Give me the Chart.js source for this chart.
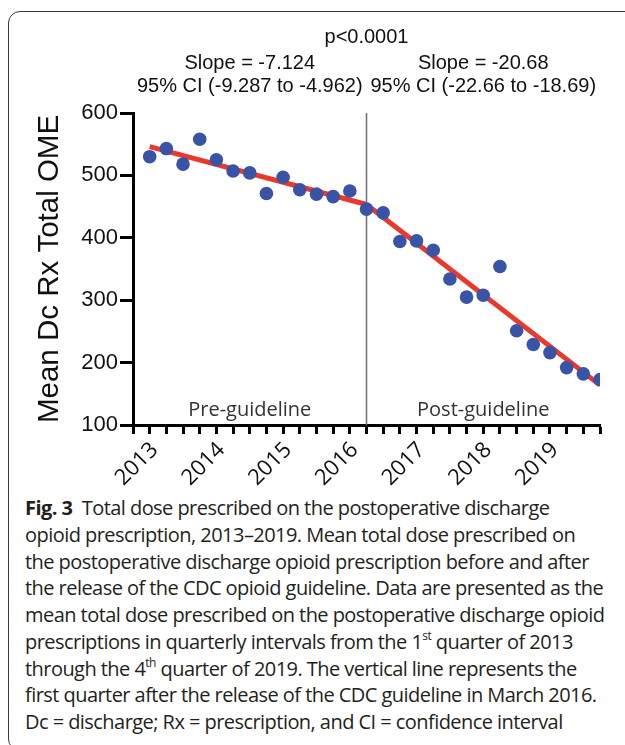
<!DOCTYPE html>
<html><head><meta charset="utf-8">
<script src="https://cdn.jsdelivr.net/npm/chart.js@4.4.1/dist/chart.umd.min.js"></script>
<style>
html,body{margin:0;padding:0;background:#fff;width:625px;height:745px;overflow:hidden;}
#frame{position:absolute;left:8px;top:11px;width:640px;height:740px;border:1.5px solid #3a3a3a;border-radius:12px;box-sizing:border-box;}
#chartWrap{position:absolute;left:0;top:0;width:625px;height:490px;}
#caption{position:absolute;left:25px;top:495px;font-family:'Open Sans',sans-serif;font-size:20px;letter-spacing:-0.55px;line-height:26.75px;color:#231f20;white-space:pre;}
#caption b{font-weight:700;}
#caption sup{font-size:0.6em;line-height:0;vertical-align:0.75em;}
</style></head>
<body>
<div id="frame"></div>
<div id="chartWrap"><canvas id="c" width="625" height="490"></canvas></div>
<div id="caption"><div><b>Fig. 3</b>  Total dose prescribed on the postoperative discharge</div><div>opioid prescription, 2013–2019. Mean total dose prescribed on</div><div>the postoperative discharge opioid prescription before and after</div><div>the release of the CDC opioid guideline. Data are presented as the</div><div>mean total dose prescribed on the postoperative discharge opioid</div><div>prescriptions in quarterly intervals from the 1<sup>st</sup> quarter of 2013</div><div>through the 4<sup>th</sup> quarter of 2019. The vertical line represents the</div><div>first quarter after the release of the CDC guideline in March 2016.</div><div>Dc = discharge; Rx = prescription, and CI = confidence interval</div></div>
<script>
// ---- data ----
const quarterIndex = [1,2,3,4,5,6,7,8,9,10,11,12,13,14,15,16,17,18,19,20,21,22,23,24,25,26,27,28];
const meanOME = [530,543,518,558,525,507,504,471,497,477,470,466,475,446,440,394,395,380,334,305,308,354,251,229,216,192,182,173];
const preFitX = [1, 14];
const preFitY = [546, 453.4];
const postFitX = [14, 28];
const postFitY = [453.5, 164];
const guidelineQuarter = 14;
const yRange = [100, 600];
const yearTickQuarters = [1,5,9,13,17,21,25];
const yearTickLabels = ['2013','2014','2015','2016','2017','2018','2019'];
const yTitle = 'Mean Dc Rx Total OME';
const pText = 'p<0.0001';
const slopePre = 'Slope = -7.124';
const ciPre = '95% CI (-9.287 to -4.962)';
const slopePost = 'Slope = -20.68';
const ciPost = '95% CI (-22.66 to -18.69)';
const preLabel = 'Pre-guideline';
const postLabel = 'Post-guideline';

const pts = (xs, ys) => xs.map((x, i) => ({x, y: ys[i]}));
const ARIAL = '"Liberation Sans", Arial, sans-serif';
const MYRIAD = '"Open Sans", sans-serif';

const annot = {
  id: 'annot',
  afterDraw(chart) {
    const {ctx, scales: {x}, chartArea} = chart;
    ctx.save();
    ctx.textAlign = 'center';
    ctx.textBaseline = 'middle';
    ctx.fillStyle = '#111';
    ctx.font = '20px ' + ARIAL;
    ctx.fillText(pText, x.getPixelForValue(guidelineQuarter), 37);
    ctx.fillText(slopePre, x.getPixelForValue(7), 63);
    ctx.fillText(ciPre, x.getPixelForValue(7), 86);
    ctx.fillText(slopePost, x.getPixelForValue(21), 63);
    ctx.fillText(ciPost, x.getPixelForValue(21), 86);
    ctx.font = '20px ' + MYRIAD;
    ctx.fillStyle = '#333';
    ctx.fillText(preLabel, x.getPixelForValue(7), chartArea.bottom - 15);
    ctx.fillText(postLabel, x.getPixelForValue(21), chartArea.bottom - 15);
    ctx.restore();
  }
};

new Chart(document.getElementById('c'), {
  type: 'scatter',
  data: {
    datasets: [
      {data: pts(quarterIndex, meanOME), backgroundColor: '#3953a6', borderWidth: 0, pointRadius: 6.8, pointHoverRadius: 6.8},
      {data: pts(preFitX, preFitY), showLine: true, borderColor: '#e8392b', borderWidth: 5, pointRadius: 0, borderCapStyle: 'butt'},
      {data: pts(postFitX, postFitY), showLine: true, borderColor: '#e8392b', borderWidth: 5, pointRadius: 0, borderCapStyle: 'butt'},
      {data: pts([guidelineQuarter, guidelineQuarter], yRange), showLine: true, borderColor: '#6e6e6e', borderWidth: 1.5, pointRadius: 0}
    ]
  },
  options: {
    responsive: false,
    animation: false,
    devicePixelRatio: 1,
    layout: {padding: {left: 0, right: 25, top: 113, bottom: 0}},
    plugins: {legend: {display: false}, tooltip: {enabled: false}},
    scales: {
      x: {
        type: 'linear', min: 0, max: 28,
        afterFit: s => { s.height = 65; },
        afterBuildTicks: s => { s.ticks = [0].concat(quarterIndex).map(v => ({value: v})); },
        ticks: {
          autoSkip: false, maxRotation: 45, minRotation: 45, padding: 3, labelOffset: 5,
          color: '#111', font: {family: MYRIAD, size: 22},
          callback: v => { const i = yearTickQuarters.indexOf(v); return i >= 0 ? yearTickLabels[i] : ''; }
        },
        grid: {drawOnChartArea: false, drawTicks: true, tickLength: 9, tickWidth: 3, color: '#000'},
        border: {display: true, width: 3, color: '#000'}
      },
      y: {
        min: yRange[0], max: yRange[1],
        afterFit: s => { s.width = 133; },
        ticks: {stepSize: 100, padding: 2, color: '#111', font: {family: ARIAL, size: 22}},
        grid: {drawOnChartArea: false, drawTicks: true, tickLength: 13, tickWidth: 3, color: '#000'},
        border: {display: true, width: 3, color: '#000'},
        title: {display: true, text: yTitle, color: '#111', font: {family: ARIAL, size: 29.5}, padding: {top: 32, bottom: 0}}
      }
    }
  },
  plugins: [annot]
});
</script>
</body></html>
